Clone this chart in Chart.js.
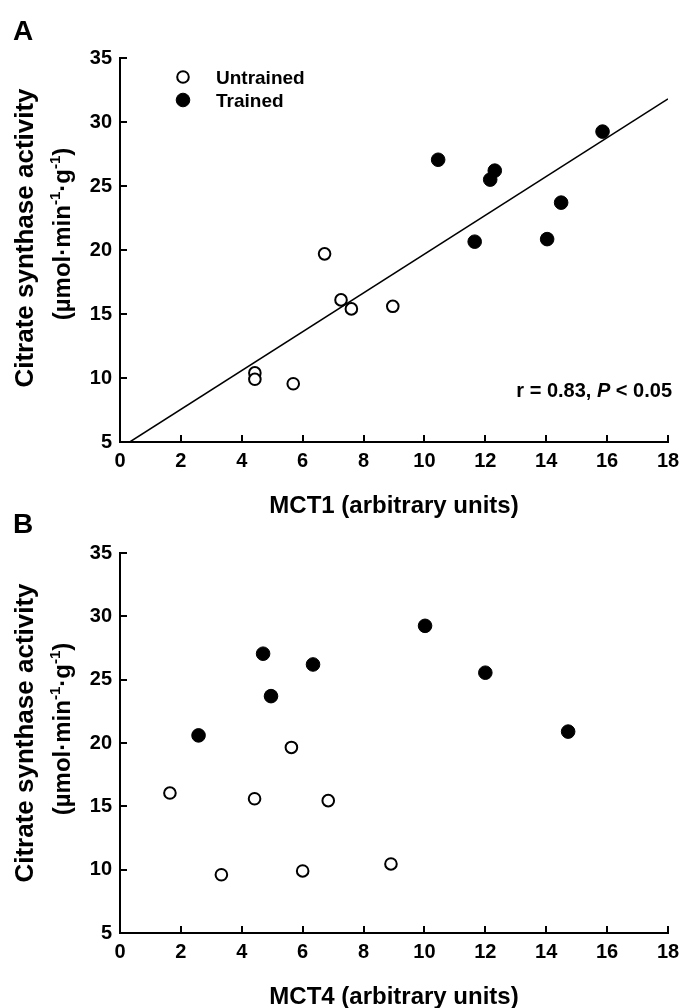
<!DOCTYPE html>
<html>
<head>
<meta charset="utf-8">
<script src="https://cdn.jsdelivr.net/npm/chart.js@4.4.0/dist/chart.umd.min.js"></script>
<style>
body{margin:0;background:#fff;width:683px;height:1008px;overflow:hidden;position:relative}
.panel{position:absolute;left:0;width:683px;height:520px}
#wrapA{top:0}
#wrapB{top:504px}
</style>
</head>
<body>
<div class="panel" id="wrapA"><canvas id="mct1"></canvas></div>
<div class="panel" id="wrapB"><canvas id="mct4"></canvas></div>
<script>
// panel A - MCT1
var mct1Untrained = [4.43, 4.43, 5.69, 6.72, 7.26, 7.60, 8.96];
var csUntrainedA  = [10.4, 9.9, 9.55, 19.7, 16.1, 15.4, 15.6];
var mct1Trained   = [10.45, 12.16, 12.31, 11.65, 14.03, 14.49, 15.85];
var csTrainedA    = [27.05, 25.5, 26.2, 20.65, 20.85, 23.7, 29.25];
// regression line end points
var fitX = [0.32, 18];
var fitY = [5, 31.8];

// panel B - MCT4
var mct4Untrained = [1.64, 3.33, 4.42, 5.63, 6.0, 6.84, 8.9];
var csUntrainedB  = [16.05, 9.6, 15.6, 19.65, 9.9, 15.45, 10.45];
var mct4Trained   = [2.58, 4.7, 4.96, 6.34, 10.02, 12.0, 14.72];
var csTrainedB    = [20.6, 27.05, 23.7, 26.2, 29.25, 25.55, 20.9];

var xTicks = [0, 2, 4, 6, 8, 10, 12, 14, 16, 18];
var yTicks = [5, 10, 15, 20, 25, 30, 35];

var FAM = '"Liberation Sans", Arial, sans-serif';

function pts(xs, ys) {
    return xs.map(function (x, i) { return {x: x, y: ys[i]}; });
}

function rich(ctx, parts, x, y) {
    // parts drawn left to right starting at x, baseline y
    parts.forEach(function (p) {
        ctx.font = p.font;
        ctx.fillText(p.t, x, y + (p.dy || 0));
        x += ctx.measureText(p.t).width;
    });
}
function richWidth(ctx, parts) {
    var w = 0;
    parts.forEach(function (p) { ctx.font = p.font; w += ctx.measureText(p.t).width; });
    return w;
}

var decor = {
    id: 'decor',
    afterDraw: function (chart) {
        var o = chart.options.plugins.decor;
        var ctx = chart.ctx, a = chart.chartArea;
        ctx.save();
        ctx.fillStyle = '#000';
        ctx.textBaseline = 'alphabetic';
        ctx.textAlign = 'left';
        // panel letter
        ctx.font = 'bold 28px ' + FAM;
        ctx.fillText(o.letter, 13, o.letterY);

        // y title, two lines rotated
        var cy = a.top + 180;
        ctx.save();
        ctx.translate(33, cy);
        ctx.rotate(-Math.PI / 2);
        ctx.font = 'bold 26px ' + FAM;
        ctx.textAlign = 'center';
        ctx.fillText('Citrate synthase activity', 0, 0);
        ctx.restore();

        var big = 'bold 24px ' + FAM, sup = 'bold 15px ' + FAM;
        var line2 = [
            {t: '(\u00b5mol\u00b7min', font: big},
            {t: '-1', font: sup, dy: -10},
            {t: '\u00b7g', font: big},
            {t: '-1', font: sup, dy: -10},
            {t: ')', font: big}
        ];
        ctx.save();
        ctx.translate(70, cy - 4);
        ctx.rotate(-Math.PI / 2);
        ctx.textAlign = 'left';
        rich(ctx, line2, -richWidth(ctx, line2) / 2, 0);
        ctx.restore();

        if (o.legend) {
            var sets = chart.data.datasets;
            var lx = 183;
            [0, 1].forEach(function (i) {
                var ly = a.top + 19 + i * 23;
                var d = sets[i];
                ctx.beginPath();
                ctx.arc(lx, ly, d.pointRadius, 0, Math.PI * 2);
                ctx.fillStyle = d.pointBackgroundColor;
                ctx.fill();
                ctx.lineWidth = d.pointBorderWidth;
                ctx.strokeStyle = '#000';
                ctx.stroke();
                ctx.fillStyle = '#000';
                ctx.font = 'bold 19px ' + FAM;
                ctx.fillText(d.label, lx + 33, ly + 7);
            });
        }
        if (o.stat) {
            var st = [
                {t: 'r = 0.83, ', font: 'bold 20px ' + FAM},
                {t: 'P', font: 'italic bold 20px ' + FAM},
                {t: ' < 0.05', font: 'bold 20px ' + FAM}
            ];
            var sy = chart.scales.y.getPixelForValue(8.5);
            rich(ctx, st, a.right + 4 - richWidth(ctx, st), sy);
        }
        ctx.restore();
    }
};

function panel(id, ux, uy, tx, ty, fit, xTitle, letter, letterY, padTop, padBottom) {
    var datasets = [{
        label: 'Untrained',
        data: pts(ux, uy),
        pointRadius: 5.8,
        pointBackgroundColor: '#fff',
        pointBorderColor: '#000',
        pointBorderWidth: 2
    }, {
        label: 'Trained',
        data: pts(tx, ty),
        pointRadius: 6.8,
        pointBackgroundColor: '#000',
        pointBorderColor: '#000',
        pointBorderWidth: 1
    }];
    if (fit) {
        datasets.push({
            type: 'line',
            label: 'fit',
            data: pts(fit[0], fit[1]),
            borderColor: '#000',
            borderWidth: 1.5,
            pointRadius: 0,
            fill: false
        });
    }
    return new Chart(id, {
        type: 'scatter',
        data: {datasets: datasets},
        options: {
            responsive: true,
            maintainAspectRatio: false,
            animation: false,
            events: [],
            layout: {padding: {top: padTop, right: 15, bottom: padBottom, left: 0}},
            plugins: {
                legend: {display: false},
                tooltip: {enabled: false},
                decor: {letter: letter, letterY: letterY, legend: !!fit, stat: !!fit}
            },
            scales: {
                x: {
                    type: 'linear',
                    min: 0,
                    max: 18,
                    afterBuildTicks: function (s) { s.ticks = xTicks.map(function (v) { return {value: v}; }); },
                    afterFit: function (s) { s.height = 78; s.paddingLeft = 0; s.paddingRight = 0; },
                    border: {color: '#000', width: 2},
                    grid: {drawOnChartArea: false, tickLength: -7, color: '#000', lineWidth: 2},
                    ticks: {color: '#000', padding: 14, maxRotation: 0, font: {family: FAM, size: 20, weight: 'bold'}},
                    title: {display: true, text: xTitle, color: '#000', padding: 0,
                        font: {family: FAM, size: 24, weight: 'bold', lineHeight: 1.1}}
                },
                y: {
                    type: 'linear',
                    min: 5,
                    max: 35,
                    afterBuildTicks: function (s) { s.ticks = yTicks.map(function (v) { return {value: v}; }); },
                    afterFit: function (s) { s.width = 120; },
                    border: {color: '#000', width: 2},
                    grid: {drawOnChartArea: false, tickLength: -7, color: '#000', lineWidth: 2},
                    ticks: {color: '#000', padding: 15, font: {family: FAM, size: 20, weight: 'bold'}}
                }
            }
        },
        plugins: [decor]
    });
}

panel('mct1', mct1Untrained, csUntrainedA, mct1Trained, csTrainedA, [fitX, fitY],
      'MCT1 (arbitrary units)', 'A', 40, 58, 0);
panel('mct4', mct4Untrained, csUntrainedB, mct4Trained, csTrainedB, null,
      'MCT4 (arbitrary units)', 'B', 29, 49, 13);
</script>
</body>
</html>
